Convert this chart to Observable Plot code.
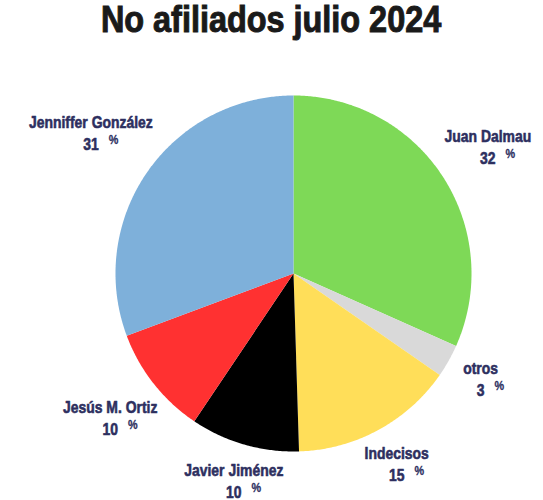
<!DOCTYPE html>
<html><head><meta charset="utf-8">
<script src="https://cdn.jsdelivr.net/npm/d3@7"></script>
<script src="https://cdn.jsdelivr.net/npm/@observablehq/plot@0.6"></script>
<style>
body{margin:0;background:#fff;}
#title{height:44px;line-height:40px;font-family:"Liberation Sans",Arial,sans-serif;font-weight:bold;font-size:36px;text-align:center;color:#1a1a1a;-webkit-text-stroke:1px #1a1a1a;white-space:nowrap;}
#title span{display:inline-block;transform:scaleX(0.9);}
#chart svg{display:block;}
</style></head><body>
<div id="title"><span>No afiliados julio 2024</span></div>
<div id="chart"></div>
<script>
const candidates = ["Juan Dalmau","otros","Indecisos","Javier Jiménez","Jesús M. Ortiz","Jenniffer González"];
const percents = [32, 3, 15, 10, 10, 31];
const colors = ["#7ed957","#d9d9d9","#ffde59","#000000","#ff3131","#7eb0da"];

const W = 543, H = 456, R = 178, CX = 293, CY = 229;
const FONT = "'Liberation Sans',Arial,sans-serif";
const NARROW = 0.82, PNARROW = 0.9;
const labelColor = "#2d2f5f";

const data = candidates.map((name, i) => ({name, value: percents[i], color: colors[i]}));
const arcs = d3.pie().sort(null).value(d => d.value).startAngle(0).endAngle(2 * Math.PI)(data);

// slice polygons (unit radius, y up)
const pts = [];
arcs.forEach(a => {
  const name = a.data.name, color = a.data.color;
  pts.push({name, color, x: 0, y: 0});
  const n = Math.max(2, Math.ceil((a.endAngle - a.startAngle) / (Math.PI / 360)));
  for (let k = 0; k <= n; k++) {
    const t = a.startAngle + (a.endAngle - a.startAngle) * k / n;
    pts.push({name, color, x: Math.sin(t), y: Math.cos(t)});
  }
  pts.push({name, color, x: 0, y: 0});
});

// label placement outside each slice
const ctx = document.createElement("canvas").getContext("2d");
function tw(s, size, k) { ctx.font = `bold ${size}px ${FONT}`; return ctx.measureText(s).width * k; }
const gap = 8, h = 17;
const labels = arcs.map(a => {
  const th = (a.startAngle + a.endAngle) / 2;
  const nameW = tw(a.data.name, 17, NARROW);
  const numW = tw(String(a.data.value), 17, NARROW);
  const w = Math.max(nameW, numW + 2 * (10 + tw("%", 12, PNARROW))) / 2;
  const dist = (R + gap + w * Math.abs(Math.sin(th)) + h * Math.abs(Math.cos(th))) / R;
  const x = dist * Math.sin(th), y = dist * Math.cos(th);
  return {name: a.data.name, num: String(a.data.value), x, y, px: x + (numW / 2 + 10) / R};
});

const txt = {lineAnchor: "bottom", fill: labelColor, stroke: labelColor, strokeWidth: 0.6, fontWeight: "bold", fontFamily: FONT};
const chart = Plot.plot({
  width: W, height: H,
  marginTop: 0, marginRight: 0, marginBottom: 0, marginLeft: 0,
  x: {domain: [-CX / R, (W - CX) / R], range: [0, W], axis: null},
  y: {domain: [CY / R, -(H - CY) / R], range: [0, H], axis: null},
  color: {type: "identity"},
  style: {background: "white"},
  marks: [
    Plot.line(pts, {x: "x", y: "y", z: "name", fill: "color", stroke: "none", curve: "linear"}),
    Plot.text(labels, {x: "x", y: "y", text: "name", dy: -5, fontSize: 17, ...txt}),
    Plot.text(labels, {x: "x", y: "y", text: "num", dy: 17, fontSize: 17, ...txt}),
    Plot.text(labels, {x: "px", y: "y", text: () => "%", dy: 11, textAnchor: "start", fontSize: 12, ...txt, strokeWidth: 0.3})
  ]
});
document.getElementById("chart").appendChild(chart);
// condense glyphs horizontally (narrow bold face), scaling about each text's anchor
chart.querySelectorAll("text").forEach(t => {
  const k = t.textContent === "%" ? PNARROW : NARROW;
  const tr = t.getAttribute("transform") || "";
  t.setAttribute("transform", `${tr} scale(${k},1)`.trim());
});
</script>
</body></html>
